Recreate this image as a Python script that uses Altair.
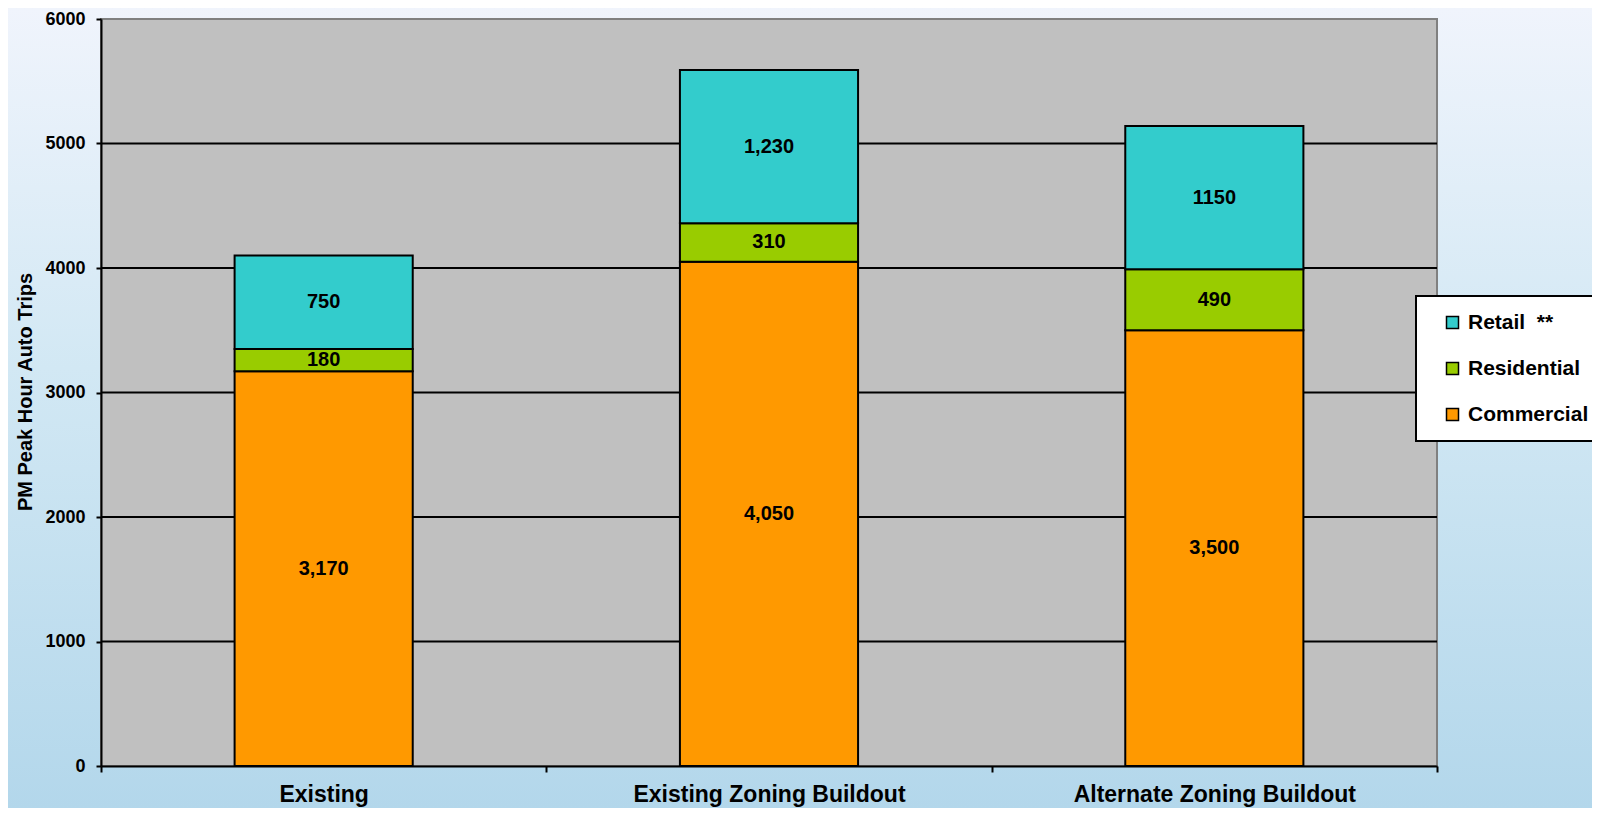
import altair as alt
import pandas as pd

categories = ["Existing", "Existing Zoning Buildout", "Alternate Zoning Buildout"]
series_names = ["Retail\u00a0\u00a0**", "Residential", "Commercial"]
series_colors = ["#33CCCC", "#99CC00", "#FF9900"]

commercial = [3170, 4050, 3500]
residential = [180, 310, 490]
retail = [750, 1230, 1150]

commercial_labels = ["3,170", "4,050", "3,500"]
residential_labels = ["180", "310", "490"]
retail_labels = ["750", "1,230", "1150"]

y_ticks = [0, 1000, 2000, 3000, 4000, 5000, 6000]
grid_values = [1000, 2000, 3000, 4000, 5000]

rows = []
for i, c in enumerate(categories):
    rows.append({"cat": c, "series": series_names[2], "value": commercial[i], "label": commercial_labels[i], "order": 0})
    rows.append({"cat": c, "series": series_names[1], "value": residential[i], "label": residential_labels[i], "order": 1})
    rows.append({"cat": c, "series": series_names[0], "value": retail[i], "label": retail_labels[i], "order": 2})
df = pd.DataFrame(rows)

W, H = 1336, 747
PAD = {"left": 93, "top": 11, "right": 155, "bottom": 42}
FONT = "Liberation Sans"

one = pd.DataFrame({"k": [0]})

x_axis = alt.Axis(
    title=None, labelAngle=0, labelFont=FONT, labelFontSize=23, labelFontWeight="bold",
    labelColor="black", labelPadding=29, labelLimit=0, labelBaseline="alphabetic",
    tickBand="extent", tickSize=6, tickWidth=2, tickColor="black",
    domainColor="black", domainWidth=2, grid=False, zindex=1,
)
x_scale = alt.Scale(paddingInner=0, paddingOuter=0)

y_axis = alt.Axis(
    values=y_ticks, format="d", grid=False, zindex=1,
    labelFont=FONT, labelFontSize=18, labelFontWeight="bold", labelColor="black",
    labelPadding=11, tickSize=5, tickWidth=2, tickColor="black",
    domainColor="black", domainWidth=2,
    title="PM Peak Hour Auto Trips", titleFont=FONT, titleFontSize=20,
    titleFontWeight="bold", titleColor="black", titleAngle=270,
    titleX=-76, titleY=H / 2 - 1, titleAlign="center", titleBaseline="middle",
)
y_scale = alt.Scale(domain=[0, 6000], nice=False)

bg = alt.Chart(one).mark_rect(
    fill=alt.LinearGradient(
        gradient="linear",
        stops=[alt.GradientStop(color="#F0F4FC", offset=0),
               alt.GradientStop(color="#D2E8F4", offset=0.45),
               alt.GradientStop(color="#B3D7EB", offset=1)],
        x1=0, x2=0, y1=0, y2=1),
    strokeWidth=0,
).encode(
    x=alt.value(-PAD["left"]), x2=alt.value(W + PAD["right"]),
    y=alt.value(-PAD["top"]), y2=alt.value(H + PAD["bottom"]),
)

plot_bg = alt.Chart(one).mark_rect(fill="#C0C0C0", stroke="#808080", strokeWidth=2).encode(
    x=alt.value(0), x2=alt.value(W), y=alt.value(0), y2=alt.value(H)
)

grid = alt.Chart(pd.DataFrame({"value": grid_values})).mark_rule(color="black", strokeWidth=2).encode(
    y=alt.Y("value:Q", axis=y_axis, scale=y_scale)
)

bars = alt.Chart(df).mark_bar(stroke="black", strokeWidth=2, width=alt.RelativeBandSize(0.4)).encode(
    x=alt.X("cat:N", sort=categories, scale=x_scale, axis=x_axis),
    y=alt.Y("value:Q", stack="zero", scale=y_scale, axis=y_axis),
    color=alt.Color(
        "series:N",
        scale=alt.Scale(domain=series_names, range=series_colors),
        legend=alt.Legend(
            orient="none", legendX=1315, legendY=277, title=None,
            fillColor="white", strokeColor="black",
            labelFont=FONT, labelFontSize=21, labelFontWeight="bold", labelColor="black",
            labelLimit=300, symbolType="square", symbolSize=144,
            symbolStrokeColor="black", symbolStrokeWidth=1.5,
            padding=16, rowPadding=24, symbolOffset=10, labelOffset=5, zindex=1,
        ),
    ),
    order=alt.Order("order:Q"),
)

text = alt.Chart(df).transform_stack(
    stack="value", groupby=["cat"], sort=[alt.SortField("order")], as_=["y0", "y1"]
).transform_calculate(
    mid="(datum.y0 + datum.y1) / 2"
).mark_text(font=FONT, fontSize=20, fontWeight="bold", color="black").encode(
    x=alt.X("cat:N", sort=categories, scale=x_scale, axis=x_axis),
    y=alt.Y("mid:Q", scale=y_scale, axis=y_axis),
    text="label:N",
)

chart = alt.layer(bg, plot_bg, grid, bars, text).properties(
    width=W, height=H,
    autosize=alt.AutoSizeParams(type="none"),
    padding=PAD,
    background="#D2E8F4",
).configure_view(strokeWidth=0).configure_legend(strokeWidth=2)

chart.save("out.html", embed_options={"renderer": "svg", "actions": False})
